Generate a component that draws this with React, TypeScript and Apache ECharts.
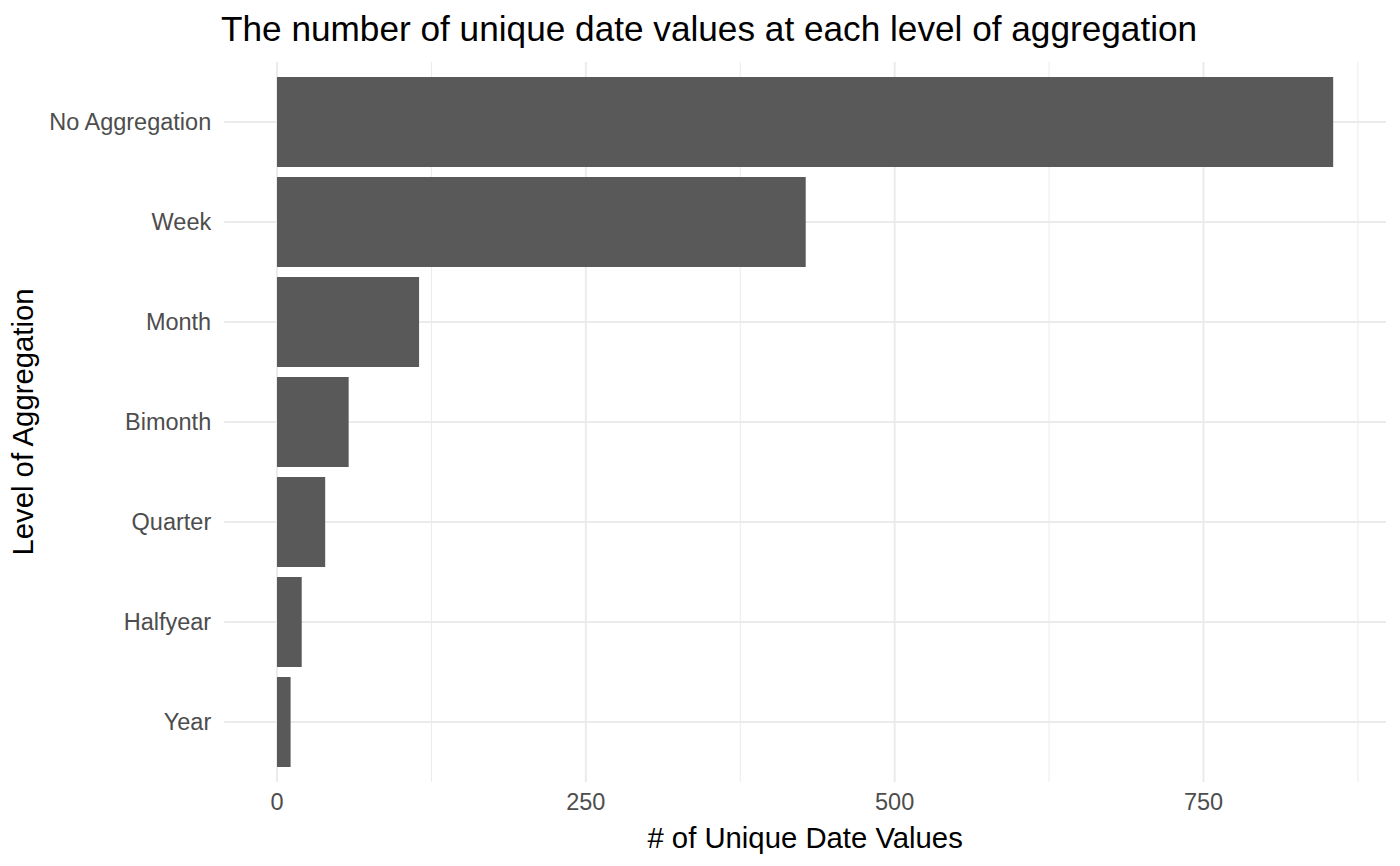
import React, { useEffect, useRef } from "react";
import * as echarts from "echarts";

const categories = ["No Aggregation", "Week", "Month", "Bimonth", "Quarter", "Halfyear", "Year"];
const uniqueCounts = [855, 428, 115, 58, 39, 20, 11];
const majorTicks = [0, 250, 500, 750];
const minorTicks = [125, 375, 625, 875];

const TITLE = "The number of unique date values at each level of aggregation";
const X_TITLE = "# of Unique Date Values";
const Y_TITLE = "Level of Aggregation";
const FONT = "'Liberation Sans', Arial, sans-serif";

export default function App() {
  const ref = useRef<HTMLDivElement>(null);
  useEffect(() => {
    if (!ref.current) return;
    const chart = echarts.init(ref.current, undefined, { renderer: "svg" });
    const maxV = Math.max(...uniqueCounts);
    const xMin = -0.05 * maxV;
    const xMax = 1.05 * maxV;

    const vLine = (width: number) => (params: any, api: any) => {
      const cs = params.coordSys;
      const x = api.coord([api.value(0), 0])[0];
      const band = api.size([0, 1])[1];
      return {
        type: "line",
        shape: { x1: x, y1: cs.y - 0.1 * band, x2: x, y2: cs.y + cs.height + 0.1 * band },
        style: { stroke: "#ebebeb", lineWidth: width },
        silent: true,
      };
    };

    chart.setOption({
      animation: false,
      backgroundColor: "#ffffff",
      textStyle: { fontFamily: FONT },
      title: {
        text: TITLE,
        left: 216,
        top: 6,
        textStyle: { fontFamily: FONT, fontSize: 35.2, fontWeight: "normal", color: "#000000" },
      },
      grid: { left: 222, right: 14, top: 72, height: 700 },
      xAxis: {
        type: "value",
        min: xMin,
        max: xMax,
        splitLine: { show: false },
        axisLine: { show: false },
        axisTick: { show: false },
        axisLabel: {
          customValues: majorTicks,
          color: "#4d4d4d",
          fontSize: 23.5,
          margin: 18,
          fontFamily: FONT,
        },
        name: X_TITLE,
        nameLocation: "middle",
        nameGap: 51,
        nameTextStyle: { color: "#000000", fontSize: 29.3, fontFamily: FONT },
      },
      yAxis: {
        type: "category",
        data: categories,
        inverse: true,
        axisLine: { show: false },
        axisTick: { show: false },
        splitLine: { show: false },
        axisLabel: { color: "#4d4d4d", fontSize: 23.5, margin: 13, fontFamily: FONT },
        name: Y_TITLE,
        nameLocation: "middle",
        nameGap: 180,
        nameTextStyle: { color: "#000000", fontSize: 29.3, fontFamily: FONT },
      },
      series: [
        {
          type: "custom",
          z: 1,
          silent: true,
          encode: { x: 0, y: 1 },
          data: minorTicks.map((v) => [v, 0]),
          renderItem: vLine(1),
        },
        {
          type: "custom",
          z: 1,
          silent: true,
          encode: { x: 0, y: 1 },
          data: majorTicks.map((v) => [v, 0]),
          renderItem: vLine(2),
        },
        {
          type: "custom",
          z: 1,
          silent: true,
          encode: { x: 0, y: 1 },
          data: categories.map((c) => [0, c]),
          renderItem: (params: any, api: any) => {
            const cs = params.coordSys;
            const y = api.coord([0, api.value(1)])[1];
            return {
              type: "line",
              shape: { x1: cs.x, y1: y, x2: cs.x + cs.width, y2: y },
              style: { stroke: "#ebebeb", lineWidth: 2 },
              silent: true,
            };
          },
        },
        {
          type: "bar",
          z: 3,
          data: uniqueCounts,
          barWidth: "90%",
          itemStyle: { color: "#595959" },
        },
      ],
    });
    return () => chart.dispose();
  }, []);
  return <div ref={ref} style={{ width: 1400, height: 866, margin: -8 }} />;
}
